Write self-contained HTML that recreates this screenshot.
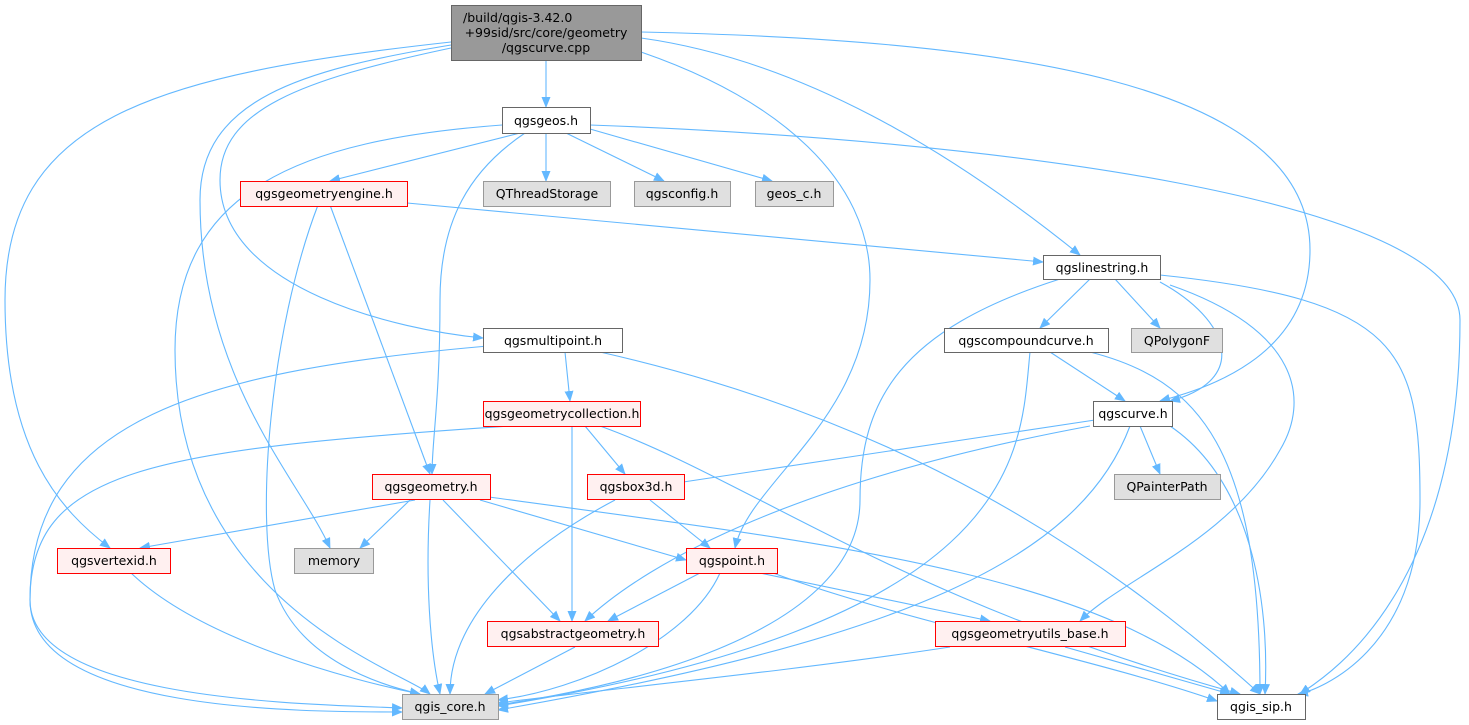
<!DOCTYPE html>
<html><head><meta charset="utf-8"><style>
html,body{margin:0;padding:0;background:#fff;}
svg{display:block;}
text{font-family:"DejaVu Sans","Liberation Sans",sans-serif;font-size:12.5px;fill:#000;text-anchor:middle;}
.e{fill:none;stroke:#63b8ff;stroke-width:1.1;marker-end:url(#a);}
.w{fill:#fff;stroke:#666;}
.r{fill:#fff0f0;stroke:#f00;}
.g{fill:#e0e0e0;stroke:#999;}
</style></head><body>
<svg width="1469" height="725" viewBox="0 0 1469 725">
<defs><marker id="a" markerWidth="11" markerHeight="9" refX="10" refY="4.5" orient="auto" markerUnits="userSpaceOnUse"><path d="M0,0 L11,4.5 L0,9 z" fill="#63b8ff"/></marker></defs>
<g>
<path class="e" d="M546,60 L546,107"/>
<path class="e" d="M451,42 C150,75 5,120 5,300 C5,450 60,510 110,548"/>
<path class="e" d="M451,45 C300,70 200,100 200,200 C200,380 300,480 330,548"/>
<path class="e" d="M451,48 C300,80 220,110 220,180 C220,290 400,330 483,338"/>
<path class="e" d="M641,38 C800,60 950,150 1080,255"/>
<path class="e" d="M641,32 C1000,40 1310,80 1310,250 C1310,360 1200,390 1160,401"/>
<path class="e" d="M641,52 C780,100 870,180 870,280 C870,420 750,480 735,548"/>
<path class="e" d="M520,133 L330,181"/>
<path class="e" d="M546,133 L546,181"/>
<path class="e" d="M566,133 L664,181"/>
<path class="e" d="M590,129 L772,181"/>
<path class="e" d="M525,133 C470,170 440,220 440,300 C440,400 432,440 432,474"/>
<path class="e" d="M502,125 C300,140 175,190 175,350 C175,600 400,670 430,694"/>
<path class="e" d="M590,125 C1000,140 1460,200 1460,320 C1460,600 1320,680 1300,694"/>
<path class="e" d="M407,203 L1043,262"/>
<path class="e" d="M330,205 L430,474"/>
<path class="e" d="M318,205 C270,330 255,520 275,590 C300,660 380,685 420,694"/>
<path class="e" d="M1090,279 L1040,328"/>
<path class="e" d="M1115,279 L1160,328"/>
<path class="e" d="M1160,282 C1230,320 1250,380 1170,401"/>
<path class="e" d="M1170,285 C1300,330 1310,400 1280,450 C1230,540 1120,580 1080,621"/>
<path class="e" d="M1160,275 C1400,300 1420,350 1420,500 C1420,650 1320,690 1298,694"/>
<path class="e" d="M1060,279 C900,330 860,400 860,500 C860,640 600,690 498,705"/>
<path class="e" d="M565,352 L570,401"/>
<path class="e" d="M500,345 C200,370 30,420 30,600 C30,700 300,704 402,708"/>
<path class="e" d="M600,352 C900,420 1100,550 1260,694"/>
<path class="e" d="M1050,352 L1125,401"/>
<path class="e" d="M1090,352 C1200,380 1260,450 1260,694"/>
<path class="e" d="M1030,352 C1020,450 1030,620 498,706"/>
<path class="e" d="M585,426 L625,474"/>
<path class="e" d="M572,426 L572,621"/>
<path class="e" d="M600,426 C750,480 900,600 1240,694"/>
<path class="e" d="M510,426 C150,450 30,470 30,600 C30,712 300,712 402,712"/>
<path class="e" d="M1095,420 L670,484"/>
<path class="e" d="M1140,426 L1160,474"/>
<path class="e" d="M1090,426 C800,480 650,560 585,621"/>
<path class="e" d="M1170,426 C1250,480 1270,600 1265,694"/>
<path class="e" d="M1130,426 C1080,560 900,640 498,710"/>
<path class="e" d="M415,500 L140,548"/>
<path class="e" d="M410,500 L360,548"/>
<path class="e" d="M430,500 C425,580 430,650 440,694"/>
<path class="e" d="M443,500 L560,621"/>
<path class="e" d="M480,500 L686,560"/>
<path class="e" d="M489,497 C800,540 1100,570 1230,694"/>
<path class="e" d="M650,500 L710,548"/>
<path class="e" d="M615,500 C520,550 450,620 450,694"/>
<path class="e" d="M700,573 L608,621"/>
<path class="e" d="M760,573 L990,621"/>
<path class="e" d="M773,573 C900,620 1100,660 1217,701"/>
<path class="e" d="M720,573 C690,640 580,690 498,700"/>
<path class="e" d="M130,572 C200,640 350,680 420,694"/>
<path class="e" d="M575,647 L485,694"/>
<path class="e" d="M950,647 C800,670 600,690 498,703"/>
<path class="e" d="M1065,647 L1230,694"/>
</g>
<rect x="451.5" y="5.5" width="190" height="55" fill="#999" stroke="#666"/>
<text x="463" y="22" style="text-anchor:start">/build/qgis-3.42.0</text>
<text x="546" y="37">+99sid/src/core/geometry</text>
<text x="546" y="52">/qgscurve.cpp</text>
<rect class="w" x="502.5" y="107.5" width="88" height="26"/><text x="546" y="125">qgsgeos.h</text>
<rect class="r" x="240.5" y="181.5" width="167" height="25"/><text x="324" y="198">qgsgeometryengine.h</text>
<rect class="g" x="483.5" y="181.5" width="127" height="25"/><text x="547" y="198">QThreadStorage</text>
<rect class="g" x="634.5" y="181.5" width="96" height="25"/><text x="682" y="198">qgsconfig.h</text>
<rect class="g" x="755.5" y="181.5" width="78" height="25"/><text x="794" y="198">geos_c.h</text>
<rect class="w" x="1043.5" y="255.5" width="117" height="24"/><text x="1102" y="272">qgslinestring.h</text>
<rect class="w" x="483.5" y="328.5" width="139" height="24"/><text x="553" y="345">qgsmultipoint.h</text>
<rect class="w" x="944.5" y="328.5" width="164" height="24"/><text x="1026" y="345">qgscompoundcurve.h</text>
<rect class="g" x="1131.5" y="328.5" width="91" height="24"/><text x="1177" y="345">QPolygonF</text>
<rect class="r" x="483.5" y="401.5" width="157" height="25"/><text x="562" y="418">qgsgeometrycollection.h</text>
<rect class="w" x="1093.5" y="401.5" width="79" height="25"/><text x="1133" y="418">qgscurve.h</text>
<rect class="r" x="372.5" y="474.5" width="118" height="25"/><text x="431" y="491">qgsgeometry.h</text>
<rect class="r" x="587.5" y="474.5" width="97" height="25"/><text x="636" y="491">qgsbox3d.h</text>
<rect class="g" x="1114.5" y="474.5" width="106" height="25"/><text x="1167" y="491">QPainterPath</text>
<rect class="r" x="57.5" y="548.5" width="113" height="25"/><text x="114" y="565">qgsvertexid.h</text>
<rect class="g" x="294.5" y="548.5" width="79" height="25"/><text x="334" y="565">memory</text>
<rect class="r" x="686.5" y="548.5" width="91" height="25"/><text x="732" y="565">qgspoint.h</text>
<rect class="r" x="487.5" y="621.5" width="171" height="25"/><text x="573" y="638">qgsabstractgeometry.h</text>
<rect class="r" x="935.5" y="621.5" width="190" height="25"/><text x="1030" y="638">qgsgeometryutils_base.h</text>
<rect class="g" x="402.5" y="694.5" width="96" height="25"/><text x="450" y="711">qgis_core.h</text>
<rect class="w" x="1217.5" y="694.5" width="88" height="25"/><text x="1261" y="711">qgis_sip.h</text>
</svg>
</body></html>
